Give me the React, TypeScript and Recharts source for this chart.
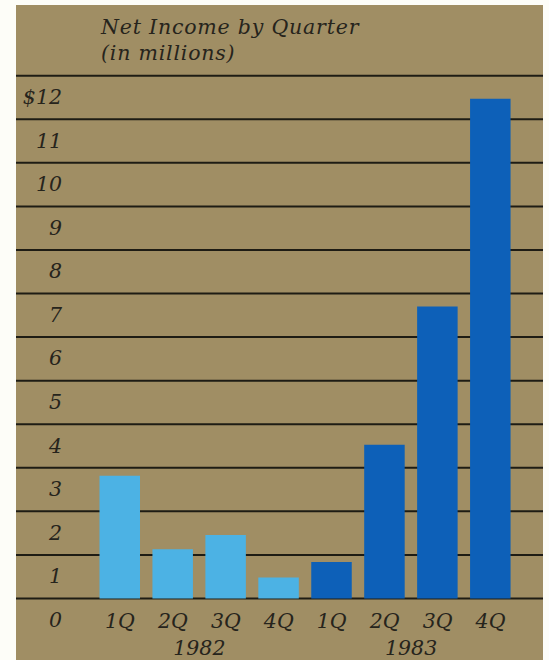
import React from 'react';
import { BarChart, Bar, Cell, XAxis, YAxis, CartesianGrid } from 'recharts';

const quarters = ['1Q', '2Q', '3Q', '4Q', '1Q', '2Q', '3Q', '4Q'];
const years = ['1982', '1982', '1982', '1982', '1983', '1983', '1983', '1983'];
const netIncome = [2.82, 1.13, 1.46, 0.48, 0.84, 3.53, 6.7, 11.47];
const yTicks = [0, 1, 2, 3, 4, 5, 6, 7, 8, 9, 10, 11, 12];

const yearColors: Record<string, string> = {
  '1982': '#4cb2e4',
  '1983': '#0d60b8',
};

const data = quarters.map((q, i) => ({
  key: `${years[i]}-${q}`,
  quarter: q,
  year: years[i],
  income: netIncome[i],
}));

const FONT = '"DejaVu Serif", serif';
const INK = '#26241c';
const TAN = '#a08e64';
const LABEL_SIZE = 20.5;

// labels sit in the band just below their grid line
const BAND_HALF = 21.8;

function YTick(props: any) {
  const { y, payload } = props;
  const label = payload.value === 12 ? '$12' : String(payload.value);
  return (
    <text
      x={62}
      y={y + BAND_HALF}
      dy="0.32em"
      textAnchor="end"
      fontFamily={FONT}
      fontStyle="italic"
      fontSize={LABEL_SIZE}
      fill={INK}
    >
      {label}
    </text>
  );
}

function QuarterTick(props: any) {
  const { x, y, payload, index } = props;
  return (
    <text
      x={x}
      y={y}
      dy={21}
      textAnchor="middle"
      fontFamily={FONT}
      fontStyle="italic"
      fontSize={LABEL_SIZE}
      fill={INK}
    >
      {data[index] ? data[index].quarter : payload.value}
    </text>
  );
}

function YearTick(props: any) {
  const { x, y, payload } = props;
  return (
    <text
      x={x}
      y={y}
      dy={16}
      textAnchor="middle"
      fontFamily={FONT}
      fontStyle="italic"
      fontSize={LABEL_SIZE}
      fill={INK}
    >
      {payload.value}
    </text>
  );
}

export default function App() {
  return (
    <div style={{ position: 'absolute', left: 0, top: 0, width: 549, height: 660, background: '#fdfdf8' }}>
      <div style={{ position: 'absolute', left: 16, top: 5, width: 527, height: 655, background: TAN }} />
      <div
        style={{
          position: 'absolute',
          left: 101,
          top: 14,
          fontFamily: FONT,
          fontStyle: 'italic',
          fontSize: 20.5,
          letterSpacing: 0.8,
          lineHeight: '26px',
          color: INK,
        }}
      >
        Net Income by Quarter
        <br />
        (in millions)
      </div>
      <div style={{ position: 'absolute', left: 0, top: 0 }}>
        <BarChart
          width={549}
          height={660}
          data={data}
          margin={{ top: 75.7, right: 6, bottom: 0, left: 15 }}
        >
          <CartesianGrid vertical={false} stroke="#1e1c14" strokeWidth={2} strokeOpacity={1} />
          <YAxis
            width={1}
            domain={[0, 12]}
            ticks={yTicks}
            interval={0}
            axisLine={false}
            tickLine={false}
            tick={<YTick />}
          />
          <XAxis
            dataKey="key"
            height={32}
            padding={{ left: 77.5, right: 26 }}
            axisLine={false}
            tickLine={false}
            interval={0}
            tick={<QuarterTick />}
          />
          <XAxis
            xAxisId="year"
            dataKey="year"
            allowDuplicatedCategory={false}
            height={29.5}
            padding={{ left: 77.5, right: 26 }}
            axisLine={false}
            tickLine={false}
            interval={0}
            tick={<YearTick />}
          />
          <Bar dataKey="income" barSize={40.5} isAnimationActive={false}>
            {data.map((d) => (
              <Cell key={d.key} fill={yearColors[d.year]} />
            ))}
          </Bar>
        </BarChart>
      </div>
    </div>
  );
}
